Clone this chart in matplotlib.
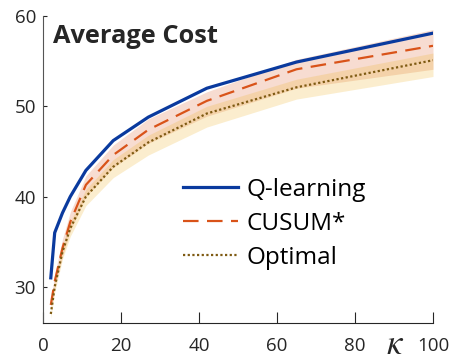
import matplotlib
matplotlib.use("Agg")
import matplotlib.pyplot as plt

plt.rcParams['font.family'] = ['Open Sans', 'DejaVu Sans']

# kappa values and average cost per method
kappa = [2, 3, 5, 7, 11, 18, 27, 42, 65, 100]
q_learning = [31.0, 36.0, 38.2, 40.0, 42.9, 46.2, 48.8, 52.0, 54.9, 58.1]
cusum = [28.0, 30.6, 34.3, 37.2, 41.3, 44.6, 47.4, 50.6, 54.1, 56.7]
optimal = [27.0, 30.0, 33.9, 36.5, 40.0, 43.3, 46.0, 49.2, 52.1, 55.1]

# shaded ranges
cusum_hi = [28.6, 31.4, 35.3, 38.3, 42.3, 45.7, 48.6, 51.6, 55.2, 58.5]
cusum_lo = [27.5, 29.9, 33.4, 36.2, 40.0, 43.2, 45.9, 48.9, 52.0, 54.1]
opt_hi = [27.3, 30.5, 34.5, 37.2, 40.8, 44.1, 46.8, 50.0, 53.0, 55.9]
opt_lo = [26.5, 29.4, 33.1, 35.6, 39.0, 42.1, 44.6, 47.7, 50.8, 53.3]

xticks = [0, 20, 40, 60, 80, 100]
yticks = [30, 40, 50, 60]

blue = '#0a3a9e'
orange = '#d95319'
brown = '#7e5a12'

fig = plt.figure(figsize=(4.57, 3.62), dpi=100)
ax = fig.add_axes([43/457, 1-323/362, 390/457, 307/362])

ax.fill_between(kappa, cusum_lo, cusum_hi, color=orange, alpha=0.2, lw=0)
ax.fill_between(kappa, opt_lo, opt_hi, color='#edb120', alpha=0.22, lw=0)

ax.plot(kappa, q_learning, color=blue, lw=2.3, label='Q-learning')
ax.plot(kappa, cusum, color=orange, lw=1.6, ls=(0, (7, 3.8)), label='CUSUM*')
ax.plot(kappa, optimal, color=brown, lw=1.6, ls=(0, (1, 1.1)), label='Optimal')

ax.set_xlim(0, 100)
ax.set_ylim(26, 60)
ax.set_xticks(xticks)
ax.set_yticks(yticks)
ax.spines['top'].set_visible(False)
ax.spines['right'].set_visible(False)
ax.spines['bottom'].set_color('#262626')
ax.spines['left'].set_color('#555555')
ax.tick_params(axis='x', direction='in', length=8, width=0.8, colors='#262626',
               labelsize=13.5, pad=10)
ax.tick_params(axis='y', direction='in', length=3, width=0.8, colors='#262626',
               labelsize=13.5, pad=5)

ax.text(0.025, (323-43)/307, 'Average Cost', transform=ax.transAxes, fontsize=18.3,
        fontweight='bold', color='#262626', va='baseline', ha='left')
fig.text(395/457, 1-354/362, r'$\kappa$', fontsize=25, ha='center', va='baseline',
         color='#262626', math_fontfamily='stix')

ax.legend(loc='upper left', bbox_to_anchor=(183/457, 1-178/362),
          bbox_transform=fig.transFigure, frameon=False, fontsize=17.5,
          handlelength=2.26, handletextpad=0.37, labelspacing=0.41,
          borderaxespad=0, borderpad=0)

fig.savefig('out.png', dpi=100)
